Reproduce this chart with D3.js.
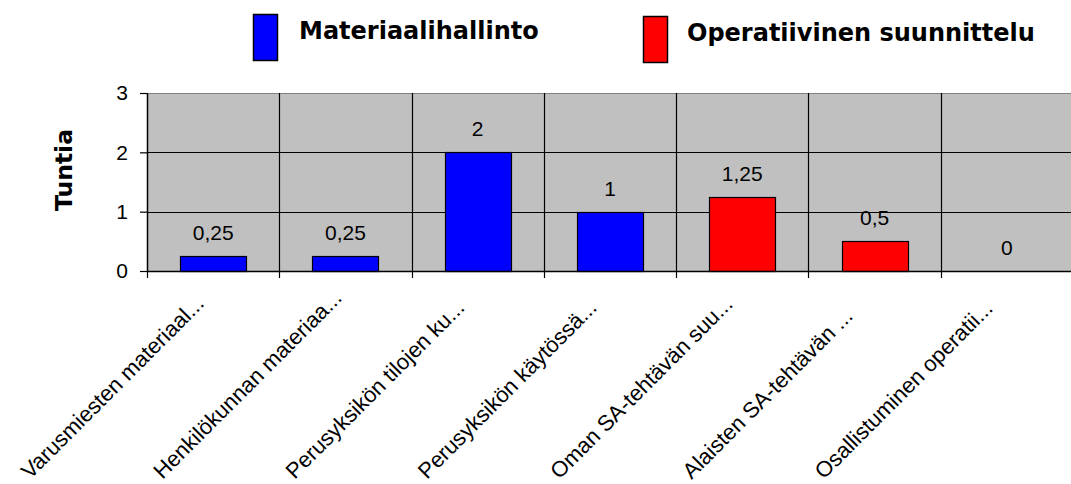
<!DOCTYPE html>
<html>
<head>
<meta charset="utf-8">
<script src="https://cdn.jsdelivr.net/npm/d3@7"></script>
<style>
  html, body { margin: 0; padding: 0; background: #fff; }
  svg { display: block; }
</style>
</head>
<body>
<svg id="chart" width="1071" height="484"></svg>
<script>
const categories = [
  "Varusmiesten materiaal...",
  "Henkilökunnan materiaa...",
  "Perusyksikön tilojen ku...",
  "Perusyksikön käytössä...",
  "Oman SA-tehtävän suu...",
  "Alaisten SA-tehtävän ...",
  "Osallistuminen operatii..."
];
const seriesNames = ["Materiaalihallinto", "Operatiivinen suunnittelu"];
const seriesColors = ["#0000ff", "#ff0000"];
const materiaalihallinto = [0.25, 0.25, 2, 1, null, null, null];
const operatiivinen = [null, null, null, null, 1.25, 0.5, 0];
const yTicks = [0, 1, 2, 3];
const yTitle = "Tuntia";

const svg = d3.select("#chart");
const plot = { left: 147, right: 1073, top: 93, bottom: 271 };

const xCat = d3.scaleBand().domain(categories).range([plot.left, plot.right]).padding(0);
const xBar = d3.scaleBand().domain(categories).range([plot.left, plot.right])
  .paddingInner(0.5).paddingOuter(0.25);
const y = d3.scaleLinear().domain([0, 3]).range([plot.bottom, plot.top]);

// plot background
svg.append("rect")
  .attr("x", plot.left).attr("y", plot.top)
  .attr("width", plot.right - plot.left).attr("height", plot.bottom - plot.top)
  .attr("fill", "#c0c0c0");

// horizontal gridlines
svg.append("g").selectAll("line").data(yTicks.filter(t => t > 0)).join("line")
  .attr("x1", plot.left).attr("x2", plot.right)
  .attr("y1", d => Math.round(y(d)) + 0.5).attr("y2", d => Math.round(y(d)) + 0.5)
  .attr("stroke", d => d === 3 ? "#808080" : "#000")
  .attr("stroke-width", 1.2);

// vertical category dividers (with ticks below axis)
const bounds = categories.slice(1).map(c => xCat(c));
svg.append("g").selectAll("line").data(bounds).join("line")
  .attr("x1", d => Math.round(d) + 0.5).attr("x2", d => Math.round(d) + 0.5)
  .attr("y1", plot.top).attr("y2", plot.bottom + 7)
  .attr("stroke", "#000").attr("stroke-width", 1.2);

// bars
const rows = categories.map((c, i) => {
  if (materiaalihallinto[i] != null) return { c, v: materiaalihallinto[i], s: 0 };
  return { c, v: operatiivinen[i], s: 1 };
});
svg.append("g").selectAll("rect").data(rows).join("rect")
  .attr("x", d => Math.round(xBar(d.c)) + 0.5)
  .attr("y", d => Math.round(y(d.v)) + 0.5)
  .attr("width", Math.round(xBar.bandwidth()))
  .attr("height", d => Math.round(y(0)) - Math.round(y(d.v)))
  .attr("fill", d => seriesColors[d.s])
  .attr("stroke", "#000").attr("stroke-width", 1.2);

// value labels
svg.append("g").selectAll("text").data(rows).join("text")
  .attr("x", d => xCat(d.c) + xCat.bandwidth() / 2)
  .attr("y", d => y(d.v) - 16)
  .attr("text-anchor", "middle")
  .attr("font-family", "Liberation Sans, Arial, sans-serif")
  .attr("font-size", 21)
  .attr("fill", "#000")
  .text(d => String(d.v).replace(".", ","));

// axes
const yAxis = svg.append("g")
  .attr("transform", `translate(${plot.left},0)`)
  .call(d3.axisLeft(y).tickValues(yTicks).tickSize(7).tickPadding(12).tickFormat(d3.format("d")));
yAxis.select(".domain").attr("stroke", "#000").attr("stroke-width", 1.5).attr("d", `M0.5,${plot.top}V${plot.bottom}`);
yAxis.selectAll(".tick line").attr("stroke", "#000").attr("stroke-width", 1.2);
yAxis.selectAll(".tick text")
  .attr("font-family", "Liberation Sans, Arial, sans-serif")
  .attr("font-size", 21).attr("fill", "#000");

svg.append("line")
  .attr("x1", plot.left).attr("x2", plot.right)
  .attr("y1", plot.bottom + 0.5).attr("y2", plot.bottom + 0.5)
  .attr("stroke", "#000").attr("stroke-width", 1.5);
svg.append("line")
  .attr("x1", plot.left + 0.5).attr("x2", plot.left + 0.5)
  .attr("y1", plot.bottom).attr("y2", plot.bottom + 7)
  .attr("stroke", "#000").attr("stroke-width", 1.2);

// category labels (rotated)
svg.append("g").selectAll("text").data(categories).join("text")
  .attr("transform", c => {
    const cx = xCat(c) + xCat.bandwidth() / 2;
    return `translate(${cx - 183},${480}) rotate(-45)`;
  })
  .attr("text-anchor", "start")
  .attr("font-family", "Liberation Sans, Arial, sans-serif")
  .attr("font-size", 22)
  .attr("fill", "#000")
  .text(c => c);

// y title
svg.append("text")
  .attr("transform", `translate(72,170) rotate(-90)`)
  .attr("text-anchor", "middle")
  .attr("font-family", "DejaVu Sans, Verdana, sans-serif")
  .attr("font-weight", "bold")
  .attr("font-size", 23.5)
  .attr("fill", "#000")
  .text(yTitle);

// legend
const legendPos = [{ x: 253, y: 14, tx: 299 }, { x: 643, y: 16, tx: 687 }];
const lg = svg.append("g").selectAll("g").data(seriesNames).join("g");
lg.append("rect")
  .attr("x", (d, i) => legendPos[i].x + 0.5).attr("y", (d, i) => legendPos[i].y + 0.5)
  .attr("width", 24).attr("height", 46)
  .attr("fill", (d, i) => seriesColors[i])
  .attr("stroke", "#000").attr("stroke-width", 1.5);
lg.append("text")
  .attr("x", (d, i) => legendPos[i].tx).attr("y", (d, i) => legendPos[i].y + 25)
  .attr("font-family", "DejaVu Sans, Verdana, sans-serif")
  .attr("font-weight", "bold")
  .attr("font-size", 24)
  .attr("fill", "#000")
  .text(d => d);
</script>
</body>
</html>
